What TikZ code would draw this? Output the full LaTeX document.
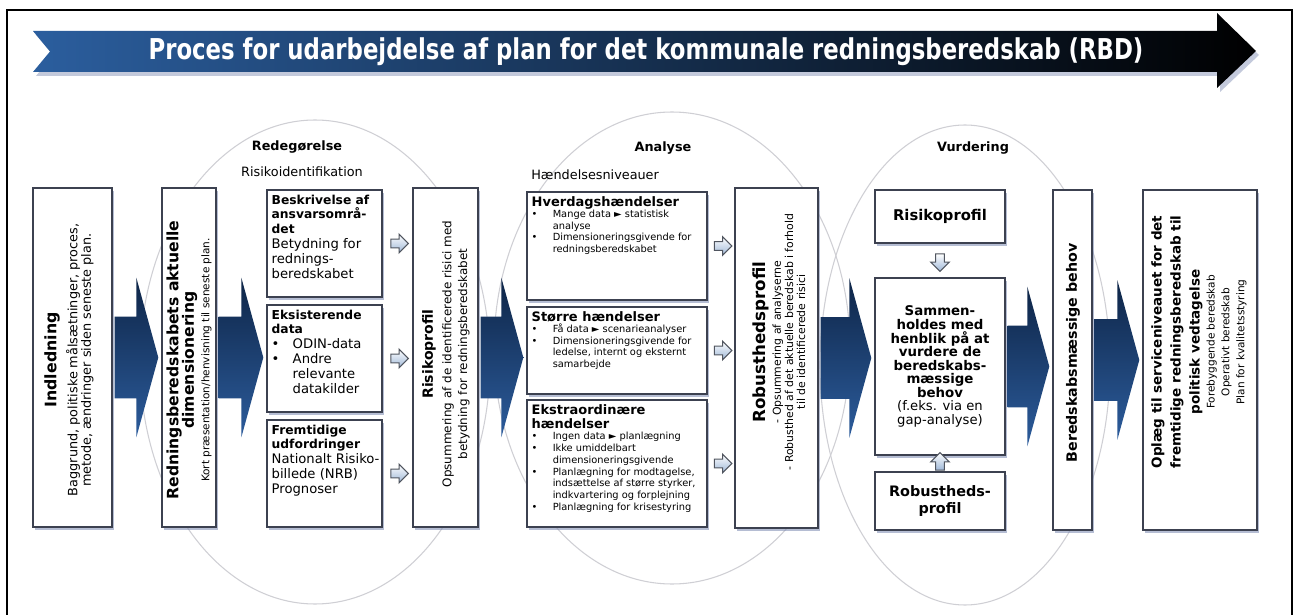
\documentclass[tikz,border=0pt]{standalone}
\usepackage{fontspec}
\usepackage{graphicx}
\setmainfont{DejaVu Sans}
\usetikzlibrary{shadows,shapes.arrows,calc}

\definecolor{boxline}{HTML}{3C4150}
\definecolor{shadowcol}{HTML}{7A88B0}
\definecolor{ringgray}{HTML}{CFCFD4}
\definecolor{arrowtop}{HTML}{0E2547}
\definecolor{arrowbot}{HTML}{2C5C9C}
\definecolor{titleleft}{HTML}{2B5E9E}
\definecolor{titlemid}{HTML}{163A66}
\definecolor{smallline}{HTML}{50555F}
\definecolor{smallfill}{HTML}{9FB8D8}

\newcommand{\fsz}[2]{\fontsize{#1}{#2}\selectfont}
\newcommand{\bt}[2]{{\fontsize{#1}{#1}\selectfont\bfseries #2}}
\newcommand{\itm}{\makebox[12pt][l]{\textbullet}}
\newcommand{\ind}{\hspace*{12pt}}

\begin{document}
\begin{tikzpicture}[x=0.02cm, y=-0.02cm,
  box/.style={draw=boxline, line width=0.8pt, fill=white, inner sep=0pt,
    drop shadow={shadow xshift=1.2pt, shadow yshift=-1.6pt, fill=shadowcol, opacity=0.55}},
  ring/.style={draw=ringgray, line width=0.6pt},
  bigarrow/.style={top color=arrowtop, bottom color=arrowbot, draw=none},
  smallarr/.style={single arrow, draw=smallline, line width=0.6pt, top color=white,
    bottom color=smallfill, inner sep=2.2pt, minimum height=10pt, single arrow head extend=2.8pt},
  boxtext/.style={anchor=north west, inner sep=0pt, align=left},
  vtext/.style={rotate=90, align=center, inner sep=0pt},
  lbl/.style={inner sep=0pt, font=\fsz{7.3}{9}}
]
\useasboundingbox (0,0) rectangle (1296,615);
\fill[white] (0,0) rectangle (1296,615);

% the three phases
\draw[ring] (315,362) ellipse [x radius=175, y radius=242];
\draw[ring] (672,348) ellipse [x radius=178, y radius=236];
\draw[ring] (965,365) ellipse [x radius=145, y radius=240];

% frame and title arrow
\draw[line width=1.4pt] (7,640) -- (7,10) -- (1292,10) -- (1292,640);
\fill[shadowcol, opacity=0.45] (36,35) -- (1220,35) -- (1220,17) -- (1259,55) -- (1220,92) -- (1220,76) -- (36,76) -- (53,55) -- cycle;
\shade[left color=titleleft, middle color=titlemid, right color=black]
  (33,31) -- (1217,31) -- (1217,13) -- (1256,51) -- (1217,88) -- (1217,72) -- (33,72) -- (50,51.5) -- cycle;
\node[text=white, inner sep=0pt] (titel) at (646,52)
  {\resizebox*{19.9cm}{0.56cm}{\bfseries Proces for udarbejdelse af plan for det kommunale redningsberedskab (RBD)}};

% boxes
\node[box, minimum width=1.58cm, minimum height=6.78cm] (indl) at (72.5,357.5) {};
\node[box, minimum width=1.08cm, minimum height=6.78cm] (redn) at (189,357.5) {};
\node[box, minimum width=2.30cm, minimum height=2.14cm] (besk) at (324.5,243.5) {};
\node[box, minimum width=2.30cm, minimum height=2.14cm] (eksi) at (324.5,358.5) {};
\node[box, minimum width=2.30cm, minimum height=2.14cm] (fremt) at (324.5,473.5) {};
\node[box, minimum width=1.30cm, minimum height=6.78cm] (risk) at (445.5,357.5) {};
\node[box, minimum width=3.60cm, minimum height=2.16cm] (hverd) at (617,246) {};
\node[box, minimum width=3.60cm, minimum height=1.74cm] (stor) at (617,350.5) {};
\node[box, minimum width=3.60cm, minimum height=2.54cm] (ekst) at (617,463.5) {};
\node[box, minimum width=1.66cm, minimum height=6.80cm] (robu) at (776.5,358) {};
\node[box, minimum width=2.60cm, minimum height=1.06cm] (riskb) at (940,216.5) {};
\node[box, minimum width=2.60cm, minimum height=3.54cm] (samm) at (940,366.5) {};
\node[box, minimum width=2.60cm, minimum height=1.16cm] (robb) at (940,501) {};
\node[box, minimum width=0.78cm, minimum height=6.80cm] (bere) at (1072.5,360) {};
\node[box, minimum width=2.28cm, minimum height=6.80cm] (oplg) at (1200,360) {};

% headings
\node[lbl, font=\bfseries\fsz{7.3}{9}] (redeg) at (297,147) {Redegørelse};
\node[lbl] (risid) at (302,172) {Risikoidentifikation};
\node[lbl, font=\bfseries\fsz{7.3}{9}] (analy) at (663,148) {Analyse};
\node[lbl, anchor=west] (haend) at (531,175) {Hændelsesniveauer};
\node[lbl, font=\bfseries\fsz{7.3}{9}] (vurd) at (973,148) {Vurdering};

% texts in the boxes
\node[vtext, font=\fsz{7.3}{7.7}] (indlt) at (69,360)
  {\bt{9}{Indledning}\\[2.5pt]
   Baggrund, politiske målsætninger, proces,\\
   metode, ændringer siden seneste plan.};
\node[vtext, font=\fsz{6}{8.8}] (rednt) at (189,360)
  {\bt{8.9}{Redningsberedskabets aktuelle}\\
   \bt{8.9}{dimensionering}\\
   Kort præsentation/henvisning til seneste plan.};
\node[boxtext, font=\fsz{7.5}{8.5}] (beskt) at ([shift={(5,5)}]besk.north west)
  {\bt{7}{Beskrivelse af}\\ \bt{7}{ansvarsområ-}\\ \bt{7}{det}\\
   Betydning for\\ rednings-\\ beredskabet};
\node[boxtext, font=\fsz{7.5}{8.5}] (eksit) at ([shift={(5,5)}]eksi.north west)
  {\bt{7}{Eksisterende}\\ \bt{7}{data}\\
   \itm ODIN-data\\ \itm Andre\\ \ind relevante\\ \ind datakilder};
\node[boxtext, font=\fsz{7.5}{8.5}] (fremtt) at ([shift={(5,5)}]fremt.north west)
  {\bt{7}{Fremtidige}\\ \bt{7}{udfordringer}\\
   Nationalt Risiko-\\ billede (NRB)\\ Prognoser};
\node[vtext, font=\fsz{6.8}{9}] (riskt) at (446,354)
  {\bt{8}{Risikoprofil}\\[1.5pt]
   Opsummering af de identificerede risici med\\
   betydning for redningsberedskabet};
\node[boxtext, font=\fsz{5.6}{6.5}] (hverdt) at ([shift={(5,5)}]hverd.north west)
  {\bt{7.4}{Hverdagshændelser}\\
   \itm Mange data ► statistisk\\ \ind analyse\\
   \itm Dimensioneringsgivende for\\ \ind redningsberedskabet};
\node[boxtext, font=\fsz{5.6}{6.5}] (stort) at ([shift={(5,5)}]stor.north west)
  {\bt{7.4}{Større hændelser}\\
   \itm Få data ► scenarieanalyser\\
   \itm Dimensioneringsgivende for\\ \ind ledelse, internt og eksternt\\ \ind samarbejde};
\node[boxtext, font=\fsz{5.6}{6.7}] (ekstt) at ([shift={(5,5)}]ekst.north west)
  {\bt{7.4}{Ekstraordinære}\\[1pt] \bt{7.4}{hændelser}\\
   \itm Ingen data ► planlægning\\
   \itm Ikke umiddelbart\\ \ind dimensioneringsgivende\\
   \itm Planlægning for modtagelse,\\ \ind indsættelse af større styrker,\\
   \ind indkvartering og forplejning\\
   \itm Planlægning for krisestyring};
\node[vtext, font=\fsz{6.2}{6.9}] (robut) at (779,342)
  {\bt{9.5}{Robusthedsprofil}\\[2pt]
   - Opsummering af analyserne\\
   - Robusthed af det aktuelle beredskab i forhold\\
   til de identificerede risici};
\node[inner sep=0pt] (riskbt) at (riskb) {\bt{8.4}{Risikoprofil}};
\node[align=center, inner sep=0pt, font=\fsz{7.5}{7.7}] (sammt) at (samm)
  {\bt{7.6}{Sammen-}\\ \bt{7.6}{holdes med}\\ \bt{7.6}{henblik på at}\\
   \bt{7.6}{vurdere de}\\ \bt{7.6}{beredskabs-}\\ \bt{7.6}{mæssige}\\
   \bt{7.6}{behov}\\ (f.eks. via en\\ gap-analyse)};
\node[align=center, inner sep=0pt, font=\fsz{8.2}{10}] (robbt) at (robb)
  {\bt{8.2}{Robustheds-}\\ \bt{8.2}{profil}};
\node[vtext] (beret) at (1073,353) {\bt{8.1}{Beredskabsmæssige behov}};
\node[vtext, font=\fsz{6}{8.5}] (oplgt) at (1199,342)
  {\bt{7.7}{Oplæg til serviceniveauet for det}\\[2.3pt]
   \bt{7.7}{fremtidige redningsberedskab til}\\[2.3pt]
   \bt{7.7}{politisk vedtagelse}\\
   Forebyggende beredskab\\ Operativt beredskab\\ Plan for kvalitetsstyring};

% big arrows between the steps
\foreach \ua/\ub in {indl/redn, redn/besk, risk/hverd, robu/riskb, samm/bere, bere/oplg}
  \shade[bigarrow] let \p1=(\ua.east), \p2=(\ub.west) in
    (\x1+0.04cm,\y1+0.82cm) -- (\x2-0.5cm,\y1+0.82cm) -- (\x2-0.5cm,\y1+1.6cm)
    -- (\x2-0.06cm,\y1) -- (\x2-0.5cm,\y1-1.6cm) -- (\x2-0.5cm,\y1-0.82cm)
    -- (\x1+0.04cm,\y1-0.82cm) -- cycle;

% small arrows
\foreach \s in {besk,eksi,fremt}
  \node[smallarr] (a-\s) at ($(\s.east)!0.5!(risk.west |- \s.east)$) {};
\foreach \s in {hverd,stor,ekst}
  \node[smallarr] (a-\s) at ($(\s.east)!0.5!(robu.west |- \s.east)$) {};
\node[smallarr, shape border rotate=270] (ned) at ($(riskb.south)!0.5!(samm.north)$) {};
\node[smallarr, shape border rotate=90] (op) at ($(robb.north)!0.5!(samm.south)$) {};
\end{tikzpicture}
\end{document}
